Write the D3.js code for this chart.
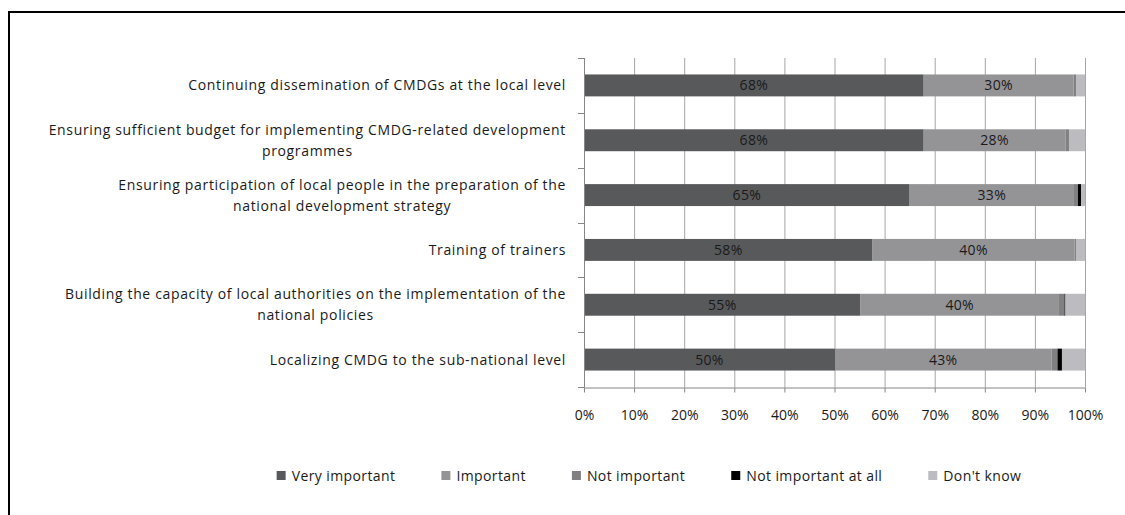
<!DOCTYPE html>
<html>
<head>
<meta charset="utf-8">
<script src="https://cdn.jsdelivr.net/npm/d3@7"></script>
<style>
  html, body { margin: 0; padding: 0; background: #fff; }
  svg { display: block; }
  text { font-family: "Open Sans", Lato, sans-serif; fill: #1a1a1a; }
</style>
</head>
<body>
<svg id="chart" width="1125" height="515"></svg>
<script>
// Survey categories (top to bottom), split into display lines
const categoryLines = [
  ["Continuing dissemination of CMDGs at the local level"],
  ["Ensuring sufficient budget for implementing CMDG-related development", "programmes"],
  ["Ensuring participation of local people in the preparation of the", "national development strategy"],
  ["Training of trainers"],
  ["Building the capacity of local authorities on the implementation of the", "national policies"],
  ["Localizing CMDG to the sub-national level"]
];

// Share of respondents (%) per answer
const veryImportant = [67.8, 67.8, 65.0, 57.6, 55.2, 50.1];
const important     = [29.9, 28.3, 32.8, 40.3, 39.6, 43.2];
const notImportant  = [0.5, 0.7, 0.8, 0.3, 1.1, 1.2];
const notAtAll      = [0.0, 0.0, 0.6, 0.0, 0.2, 0.9];
const dontKnow      = [1.8, 3.2, 0.8, 1.8, 3.9, 4.6];

const seriesNames = ["Very important", "Important", "Not important", "Not important at all", "Don't know"];
const seriesColors = ["#58595b", "#949497", "#808083", "#000000", "#bcbcc0"];
const labelledSeries = ["Very important", "Important"];

const xTicks = [0, 10, 20, 30, 40, 50, 60, 70, 80, 90, 100];

const seriesValues = [veryImportant, important, notImportant, notAtAll, dontKnow];
const rows = categoryLines.map((lines, i) => {
  const r = { key: i };
  seriesNames.forEach((s, j) => { r[s] = seriesValues[j][i]; });
  return r;
});

const svg = d3.select("#chart");

// chart frame
svg.append("rect")
  .attr("x", 9).attr("y", 12)
  .attr("width", 1200).attr("height", 600)
  .attr("fill", "#fff").attr("stroke", "#000").attr("stroke-width", 2);

const x = d3.scaleLinear().domain([0, 100]).range([584, 1085]);
const y = d3.scaleBand().domain(rows.map(r => r.key)).range([58, 387]).paddingInner(0.6).paddingOuter(0.3);
const yEdges = d3.scaleLinear().domain([0, rows.length]).range([58, 387]);

// vertical gridlines
svg.append("g").selectAll("line").data(xTicks.slice(1)).join("line")
  .attr("x1", d => x(d) + 0.5).attr("x2", d => x(d) + 0.5)
  .attr("y1", 58).attr("y2", 387)
  .attr("stroke", "#a6a6a6").attr("stroke-width", 1);

// stacked bars
const stack = d3.stack().keys(seriesNames);
const stacked = stack(rows);
const color = d3.scaleOrdinal().domain(seriesNames).range(seriesColors);

const layers = svg.append("g").selectAll("g").data(stacked).join("g")
  .attr("fill", d => color(d.key));
layers.selectAll("rect").data(d => d).join("rect")
  .attr("x", d => x(d[0]))
  .attr("width", d => Math.max(0, x(d[1]) - x(d[0])))
  .attr("y", (d, i) => y(rows[i].key))
  .attr("height", y.bandwidth());

// value labels
const fmt = d3.format(".0f");
svg.append("g").selectAll("g").data(stacked.filter(s => labelledSeries.includes(s.key))).join("g")
  .selectAll("text").data(d => d).join("text")
  .attr("x", d => (x(d[0]) + x(d[1])) / 2)
  .attr("y", (d, i) => y(rows[i].key) + y.bandwidth() / 2)
  .attr("dy", "0.36em")
  .attr("text-anchor", "middle")
  .attr("font-size", 14)
  .attr("letter-spacing", 0.3)
  .text(d => fmt(d[1] - d[0]) + "%");

// x axis
const xAxis = d3.axisBottom(x).tickValues(xTicks).tickSize(5).tickSizeOuter(0)
  .tickFormat(d => d + "%");
const gx = svg.append("g").attr("transform", "translate(0,387.5)").call(xAxis);
gx.select(".domain").attr("stroke", "#868686");
gx.selectAll(".tick line").attr("stroke", "#868686");
gx.selectAll(".tick text").attr("font-size", 14).attr("font-family", "'Open Sans', sans-serif")
  .attr("fill", "#1a1a1a").attr("dy", "1.75em");

// y axis (category edges)
svg.append("line").attr("x1", 584.5).attr("x2", 584.5).attr("y1", 58).attr("y2", 387)
  .attr("stroke", "#868686");
svg.append("g").selectAll("line").data(d3.range(rows.length + 1)).join("line")
  .attr("x1", 578).attr("x2", 584.5)
  .attr("y1", d => Math.round(yEdges(d)) + 0.5).attr("y2", d => Math.round(yEdges(d)) + 0.5)
  .attr("stroke", "#868686");

// category labels: block right-aligned, lines centred within block
const labelRight = 566;
const lineGap = 21;
const catG = svg.append("g");
categoryLines.forEach((lines, i) => {
  const cy = y(i) + y.bandwidth() / 2;
  const t = catG.append("text").attr("font-size", 14).attr("letter-spacing", 0.65)
    .attr("text-anchor", "middle");
  lines.forEach((ln, k) => {
    t.append("tspan").attr("x", 0)
      .attr("y", cy + (k - (lines.length - 1) / 2) * lineGap)
      .attr("dy", "0.36em").text(ln);
  });
  const w = t.node().getBBox().width;
  t.selectAll("tspan").attr("x", labelRight - w / 2);
});

// legend
const legend = svg.append("g").attr("transform", "translate(0,476)");
const items = [];
seriesNames.forEach((name, i) => {
  const g = legend.append("g");
  g.append("rect").attr("x", 0).attr("y", -5).attr("width", 9).attr("height", 9)
    .attr("fill", seriesColors[i]);
  const t = g.append("text").attr("x", 15).attr("dy", "0.36em").attr("font-size", 14)
    .attr("letter-spacing", 0.4).text(name);
  const w = 15 + t.node().getComputedTextLength();
  items.push({ g, w });
});
const gap = 46;
const total = d3.sum(items, d => d.w) + gap * (items.length - 1);
let lx = 649 - total / 2;
items.forEach(it => {
  it.g.attr("transform", `translate(${lx},0)`);
  lx += it.w + gap;
});
</script>
</body>
</html>
